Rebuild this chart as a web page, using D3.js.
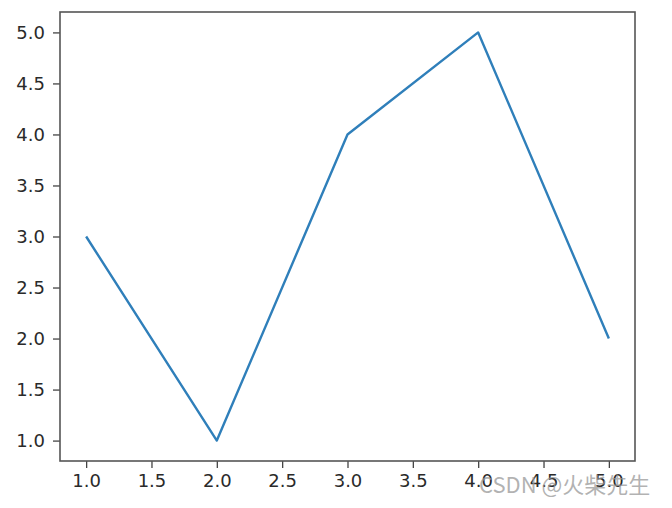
<!DOCTYPE html>
<html><head><meta charset="utf-8">
<script src="https://cdn.jsdelivr.net/npm/d3@7"></script>
<style>body{margin:0;background:#fff;} svg{display:block;}</style>
</head><body>
<svg id="c" width="672" height="508"></svg>
<script>
const xValues = [1, 2, 3, 4, 5];
const yValues = [3, 1, 4, 5, 2];
const xTicks = [1.0, 1.5, 2.0, 2.5, 3.0, 3.5, 4.0, 4.5, 5.0];
const yTicks = [1.0, 1.5, 2.0, 2.5, 3.0, 3.5, 4.0, 4.5, 5.0];
const watermark = "CSDN @火柴先生";

const svg = d3.select("#c");
const L = 60, R = 635, T = 12, B = 461;
const x = d3.scaleLinear().domain([0.8, 5.2]).range([L, R]);
const y = d3.scaleLinear().domain([0.8, 5.2]).range([B, T]);
const font = "'DejaVu Sans', sans-serif";

const xAxis = svg.append("g").attr("transform", `translate(0,${B})`)
  .call(d3.axisBottom(x).tickValues(xTicks).tickFormat(d3.format(".1f")).tickSizeInner(7).tickSizeOuter(0).tickPadding(6));
const yAxis = svg.append("g").attr("transform", `translate(${L},0)`)
  .call(d3.axisLeft(y).tickValues(yTicks).tickFormat(d3.format(".1f")).tickSizeInner(7).tickSizeOuter(0).tickPadding(8));
[xAxis, yAxis].forEach(g => {
  g.select(".domain").remove();
  g.selectAll("line").attr("stroke", "#444").attr("stroke-width", 1.3);
  g.selectAll("text").attr("font-family", font).attr("font-size", 18).attr("fill", "#2a2a2a");
});

svg.append("path")
  .datum(xValues.map((v, i) => [v, yValues[i]]))
  .attr("fill", "none").attr("stroke", "#2f7fba").attr("stroke-width", 2.4)
  .attr("stroke-linejoin", "round")
  .attr("d", d3.line().x(d => x(d[0])).y(d => y(d[1])));

svg.append("rect").attr("x", L).attr("y", T).attr("width", R - L).attr("height", B - T)
  .attr("fill", "none").attr("stroke", "#555").attr("stroke-width", 1.6);

svg.append("text").attr("x", 479).attr("y", 493).attr("text-anchor", "start")
  .attr("font-family", "'Noto Sans CJK SC', sans-serif").attr("font-size", 22)
  .attr("fill", "#999").attr("fill-opacity", 0.75).text(watermark);
</script>
</body></html>
